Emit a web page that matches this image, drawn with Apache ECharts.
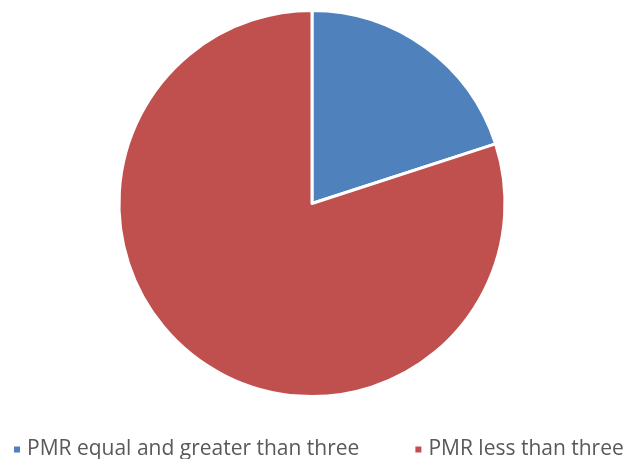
<!DOCTYPE html>
<html><head><meta charset="utf-8">
<script src="https://cdn.jsdelivr.net/npm/echarts@6/dist/echarts.min.js"></script>
<style>html,body{margin:0;padding:0;background:#fff}#c{width:624px;height:459px}</style>
</head><body><div id="c"></div>
<script>
const categories = ["PMR equal and greater than three", "PMR less than three"];
const values = [20, 80];
const colors = ["#4F81BD", "#C0504D"];

const chart = echarts.init(document.getElementById('c'), null, {renderer: 'canvas'});
chart.setOption({
  animation: false,
  color: colors,
  legend: {
    data: categories,
    top: 439,
    left: 12,
    padding: 0,
    itemGap: 54,
    itemWidth: 8,
    itemHeight: 8,
    icon: 'rect',
    textStyle: {fontFamily: 'Open Sans', fontSize: 21, color: '#595959', padding: [0, 0, 0, 1]}
  },
  series: [{
    type: 'pie',
    center: [312, 203.5],
    radius: [0, 193],
    startAngle: 90,
    clockwise: true,
    label: {show: false},
    labelLine: {show: false},
    itemStyle: {borderColor: '#fff', borderWidth: 3},
    data: categories.map((n, i) => ({name: n, value: values[i]}))
  }]
});
</script></body></html>
